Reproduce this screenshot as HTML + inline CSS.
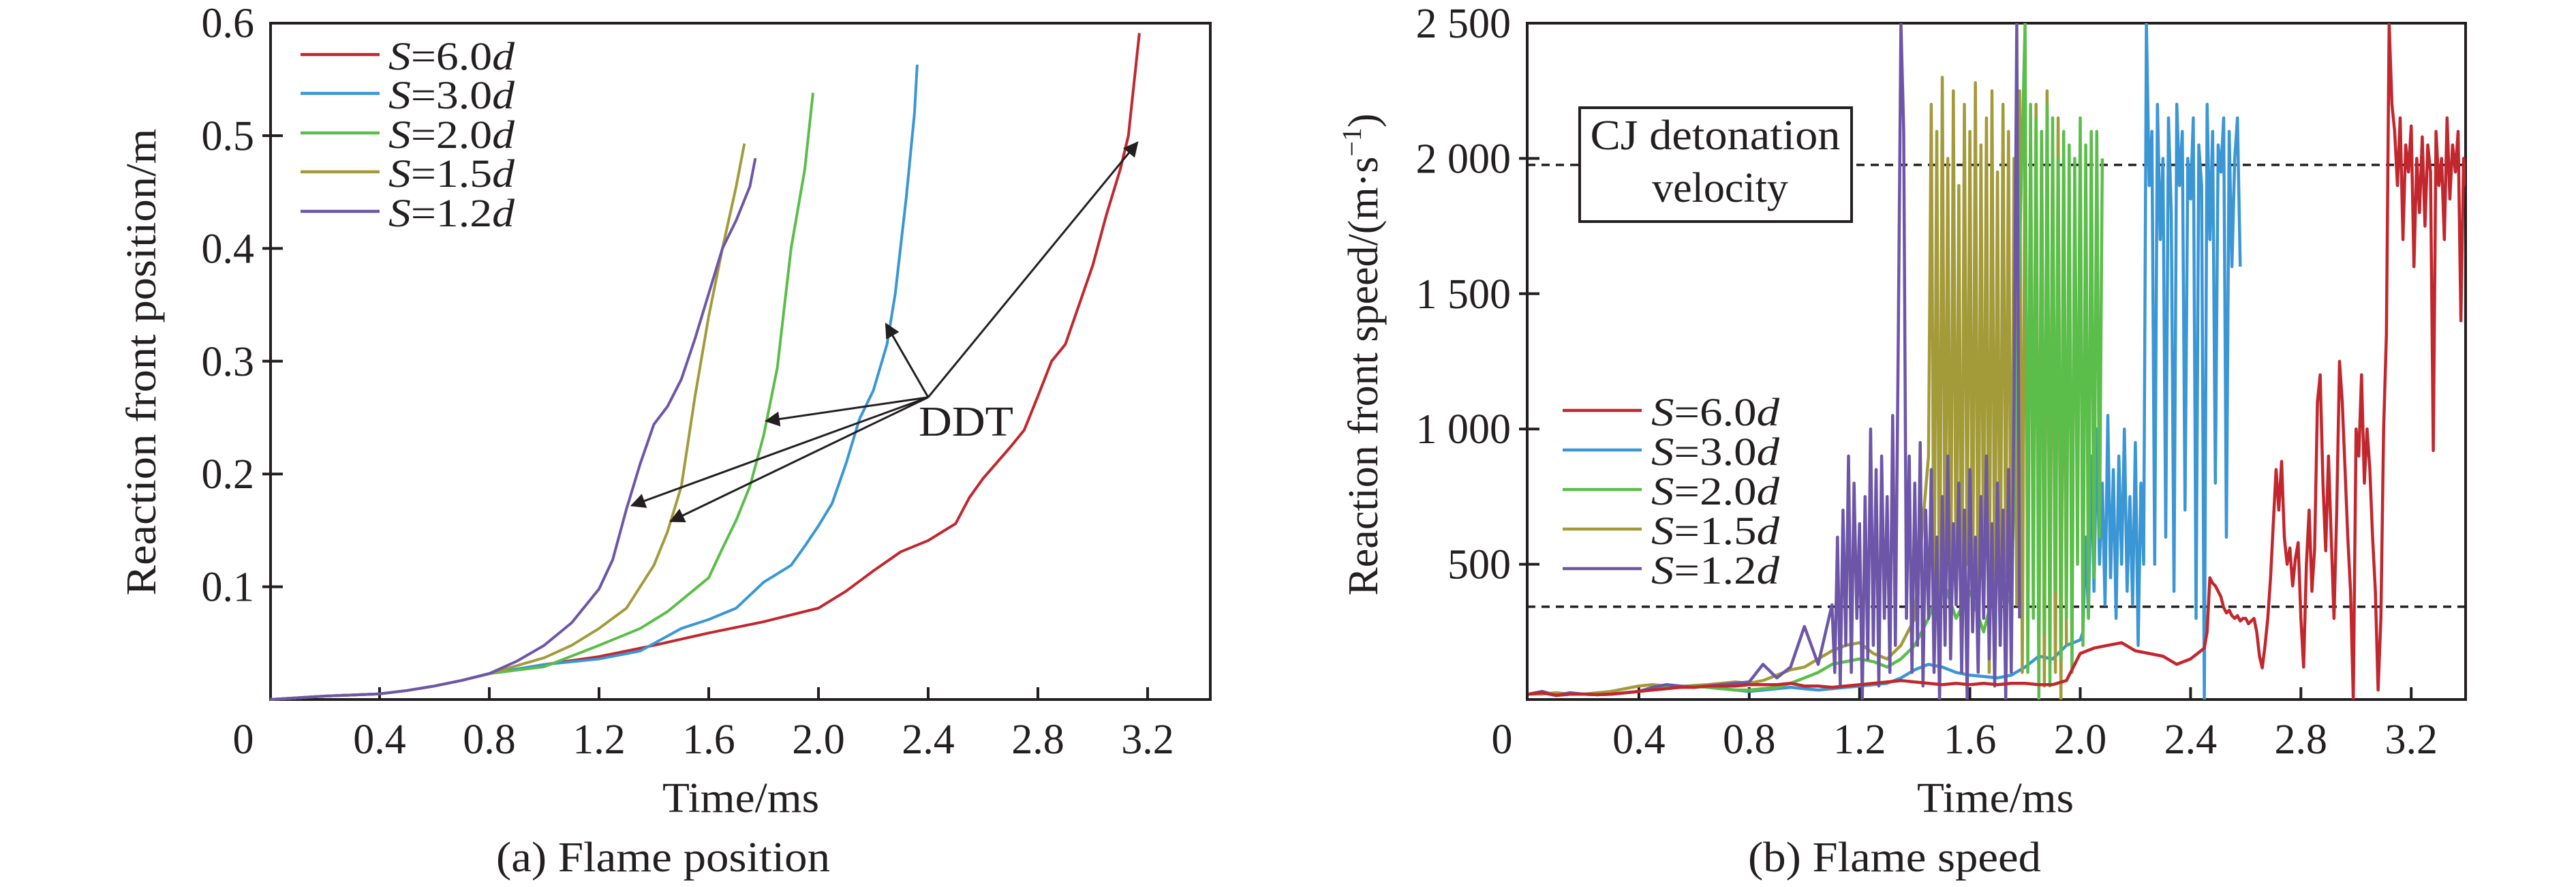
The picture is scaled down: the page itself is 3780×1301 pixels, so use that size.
<!DOCTYPE html>
<html><head><meta charset="utf-8"><style>
html,body{margin:0;padding:0;background:#fff;}
svg{display:block;font-family:"Liberation Serif",serif;}
</style></head><body>
<svg id="fig" width="3780" height="1301" viewBox="0 0 3780 1301" xmlns="http://www.w3.org/2000/svg">
<defs><clipPath id="clipB"><rect x="2241" y="34" width="1377" height="992"/></clipPath>
<marker id="arrh" viewBox="0 0 10 10" refX="9" refY="5" markerWidth="30" markerHeight="22" orient="auto-start-reverse" markerUnits="userSpaceOnUse"><path d="M0,0 L10,5 L0,10 z" fill="#231f20"/></marker>
</defs>
<g id="panelA"></g>
<g id="panelB"></g>
</svg>
<script>
// ---------- Panel (a) data ----------
const seriesNames = ["S=6.0d","S=3.0d","S=2.0d","S=1.5d","S=1.2d"];
const seriesColors = ["#c1272d","#3a96d4","#5bbd4a","#a39a3a","#6d56a8"];
const xTicks = [0,0.4,0.8,1.2,1.6,2.0,2.4,2.8,3.2];
const xTickLabels = ["0","0.4","0.8","1.2","1.6","2.0","2.4","2.8","3.2"];
const yTicksA = [0.1,0.2,0.3,0.4,0.5,0.6];
const yTickLabelsA = ["0.1","0.2","0.3","0.4","0.5","0.6"];
const sharedT = [0,0.2,0.4,0.5,0.6,0.7,0.8];
const sharedP = [0,0.003,0.005,0.008,0.012,0.017,0.023];
const redT = [1.0,1.2,1.4,1.6,1.8,2.0,2.1,2.2,2.3,2.4,2.5,2.55,2.6,2.7,2.75,2.8,2.85,2.9,2.95,3.0,3.05,3.1,3.13,3.17];
const redP = [0.031,0.038,0.048,0.059,0.069,0.081,0.096,0.114,0.131,0.141,0.156,0.179,0.196,0.224,0.239,0.269,0.30,0.315,0.35,0.385,0.43,0.47,0.50,0.591];
const blueT = [1.0,1.2,1.35,1.5,1.6,1.7,1.8,1.9,1.95,2.0,2.05,2.1,2.15,2.2,2.25,2.28,2.32,2.35,2.36];
const blueP = [0.031,0.036,0.043,0.063,0.071,0.081,0.104,0.119,0.136,0.154,0.174,0.209,0.249,0.274,0.315,0.36,0.445,0.52,0.563];
const greenT = [1.0,1.2,1.35,1.45,1.5,1.6,1.65,1.7,1.75,1.8,1.85,1.9,1.95,1.98];
const greenP = [0.029,0.048,0.063,0.078,0.088,0.108,0.134,0.159,0.189,0.234,0.294,0.40,0.47,0.538];
const oliveT = [1.0,1.1,1.2,1.3,1.4,1.45,1.5,1.55,1.6,1.65,1.7,1.73];
const oliveP = [0.037,0.048,0.063,0.081,0.119,0.149,0.189,0.269,0.34,0.40,0.455,0.493];
const purpleT = [0.9,1.0,1.1,1.15,1.2,1.25,1.3,1.35,1.4,1.45,1.5,1.55,1.6,1.65,1.7,1.75,1.77];
const purpleP = [0.034,0.048,0.068,0.083,0.098,0.124,0.169,0.209,0.244,0.26,0.284,0.32,0.36,0.40,0.425,0.455,0.48];
const ddtOrigin = [2.40,0.268];
const ddtTargetsT = [3.163,2.246,1.809,1.319,1.461];
const ddtTargetsP = [0.494,0.333,0.247,0.172,0.158];

// ---------- Panel (b) data ----------
const yTicksB = [500,1000,1500,2000,2500];
const yTickLabelsB = ["500","1 000","1 500","2 000","2 500"];
const cjSpeed = 1976, lowSpeed = 343;
const coarseStep = 0.05, fineStep = 0.01;
const redCoarse = [20,25,15,20,20,18,20,25,30,35,40,45,45,50,50,50,55,55,55,60,50,50,45,50,55,60,65,70,65,60,55,60,55,60,55,60,60,55,55,70,170,190,200,210,180,170,160,130,150,180];
const redFineStart = 2.45;
const redFine = [190,250,450,430,420,400,380,340,320,330,310,300,310,290,300,300,280,290,300,250,160,117,200,300,450,650,
850,700,880,600,500,560,420,520,580,300,120,500,700,400,560,1100,1200,800,550,900,600,300,700,1250,1100,850,600,400,0,1000,900,1200,800,1000,850,600,400,35,300,1000,1350,
2500,2200,2100,1900,2150,1700,2050,1950,2120,1600,2000,1800,2080,1750,2050,1950,920,2100,1900,2000,1700,2150,1850,2050,1950,2100,1400,2000,1900,2150];
const blueCoarse = [20,25,15,20,20,18,20,25,30,40,45,45,50,45,40,35,30,35,40,45,40,35,40,45,50,55,60,80,110,130,120,100,90,85,80,90,120,160,150,200,220];
const blueFineStart = 2.01;
const blueFine = [250,600,300,900,400,1000,500,800,350,1050,450,850,300,900,500,1000,400,750,350,950,200,800,500,2500,
1900,2100,500,2200,1700,2000,600,2150,1800,400,2200,1900,2100,700,2000,1850,2150,300,2050,1900,0,2200,1700,2100,800,2050,1950,2150,600,2100,1600,2000,2150,1600];
const greenCoarse = [20,25,15,20,20,18,20,25,30,40,45,45,50,45,40,35,35,40,45,60,80,100,130,140,150,140,120,150,200,300,450,300,400,250,450,350];
const greenFineStart = 1.80;
const greenFine = [2500,100,2200,300,2150,0,2100,250,2200,50,2150,400,2000,150,2100,300,2050,100,2000,500,2150,200,2050,300,2100,450,2100,600,2000];
const oliveCoarse = [20,20,25,20,20,25,30,40,50,55,50,48,52,55,60,65,60,70,90,110,120,150,180,200,210,170,150,200,300];
const oliveFineStart = 1.45;
const oliveFine = [900,2200,300,2100,150,2300,400,2000,200,2250,350,1900,100,2200,500,2100,250,2280,150,2050,400,2150,100,2250,300,1950,200,2200,450,2100,150,2000,350,2250,100,2150,300,2050,500,2200,150,2100,50,2250,300,2000,100,2150,0,1800,200];
const purpleCoarse = [20,30,15,25,20,18,20,25,30,45,55,50,45,50,55,60,65,130,80,120,270,130,350];
const purpleFineStart = 1.11;
const purpleFine = [100,600,50,700,200,900,100,800,300,650,0,750,150,1000,200,850,50,900,300,750,100,1050,200,1300,
2500,2100,300,900,100,800,200,950,50,700,300,850,100,600,0,750,200,900,150,650,350,800,100,700,0,850,250,600,100,750,300,900,150,650,50,800,200,700,0,850,100,1100,2500,300];

const NS="http://www.w3.org/2000/svg";
function mk(tag, parent, attrs){const e=document.createElementNS(NS,tag);for(const k in attrs)e.setAttribute(k,attrs[k]);parent.appendChild(e);return e;}
const INK="#231f20";

const A={x0:396, sx:402.5, y0:1026, sy:1654, left:397, right:1776, top:34, bottom:1026};
const B={x0:2243, sx:404.75, y0:1026, sy:992/2500, left:2241, right:3618, top:34, bottom:1026};
const ax=t=>A.x0+t*A.sx, ay=p=>A.y0-p*A.sy;
const bx=t=>B.x0+t*B.sx, by=v=>B.y0-v*B.sy;

function legendText(g, x, y, label, w){
  const t=mk('text',g,{x:x,y:y,'font-size':58,fill:INK,textLength:w,lengthAdjust:'spacingAndGlyphs'});
  const m=label.match(/^S=(.*)d$/);
  const s1=mk('tspan',t,{'font-style':'italic'});s1.textContent='S';
  const s2=mk('tspan',t,{});s2.textContent='='+m[1];
  const s3=mk('tspan',t,{'font-style':'italic'});s3.textContent='d';
  return t;
}

function drawFrame(g,P,xf,yf,yTicks,yLabels){
  const fr=mk('rect',g,{x:P.left,y:P.top,width:P.right-P.left,height:P.bottom-P.top,fill:'none',stroke:INK,'stroke-width':4});
  
  
  xTicks.forEach((v,i)=>{
    const x=xf(v);
    if(v>0){const tk=mk('line',g,{x1:x,y1:P.bottom,x2:x,y2:P.bottom-18,stroke:INK,'stroke-width':4});
      
      }
    const lx = v===0 ? x-39 : x;
    const lb=mk('text',g,{x:lx,y:1105,'font-size':62,'text-anchor':'middle',fill:INK});
    lb.textContent=xTickLabels[i];
    
    
  });
  yTicks.forEach((v,i)=>{
    const y=yf(v);
    if(y<P.bottom-2 && y>P.top+2){const tk=mk('line',g,{x1:P.left-12,y1:y,x2:P.left+18,y2:y,stroke:INK,'stroke-width':4});
      
      }
    const lb=mk('text',g,{x:P.left-24,y:y+21,'font-size':62,'text-anchor':'end',fill:INK});
    lb.textContent=yLabels[i];
    
    
  });
}

function pathFrom(ts,vs,xf,yf){return ts.map((t,i)=>(i?'L':'M')+xf(t).toFixed(1)+','+yf(vs[i]).toFixed(1)).join(' ');}

// ---------- Panel (a) ----------
const gA=document.getElementById('panelA');
drawFrame(gA,A,ax,ay,yTicksA,yTickLabelsA);
const aT=[redT,blueT,greenT,oliveT,purpleT], aP=[redP,blueP,greenP,oliveP,purpleP];
const aNames=['curve-s6','curve-s3','curve-s2','curve-s15','curve-s12'];
aT.forEach((ts,k)=>{
  const p=mk('path',gA,{d:pathFrom(sharedT.concat(ts),sharedP.concat(aP[k]),ax,ay),fill:'none',stroke:seriesColors[k],'stroke-width':4,'stroke-linejoin':'round'});
  
  
});
ddtTargetsT.forEach((t,i)=>{
  const l=mk('line',gA,{x1:ax(ddtOrigin[0]),y1:ay(ddtOrigin[1]),x2:ax(t),y2:ay(ddtTargetsP[i]),stroke:INK,'stroke-width':3,'marker-end':'url(#arrh)'});
  
  
});
const ddt=mk('text',gA,{x:1348,y:639,'font-size':62,fill:INK,textLength:139,lengthAdjust:'spacingAndGlyphs'});ddt.textContent='DDT';


const legYA=[80,137,195,252,310];
seriesNames.forEach((n,k)=>{
  const g=mk('g',gA,{});
  
  
  mk('line',g,{x1:441,y1:legYA[k],x2:557,y2:legYA[k],stroke:seriesColors[k],'stroke-width':4.5});
  legendText(g,570,legYA[k]+22,n,185);
});
let t;
t=mk('text',gA,{x:1087,y:1191,'font-size':62,'text-anchor':'middle',fill:INK,textLength:230,lengthAdjust:'spacingAndGlyphs'});t.textContent='Time/ms';


t=mk('text',gA,{x:973,y:1278,'font-size':62,'text-anchor':'middle',fill:INK,textLength:490,lengthAdjust:'spacingAndGlyphs'});t.textContent='(a) Flame position';


t=mk('text',gA,{x:0,y:0,'font-size':62,'text-anchor':'middle',fill:INK,textLength:685,lengthAdjust:'spacingAndGlyphs',transform:'translate(228,531) rotate(-90)'});t.textContent='Reaction front position/m';



// ---------- Panel (b) ----------
const gB=document.getElementById('panelB');
drawFrame(gB,B,bx,by,yTicksB,yTickLabelsB);
[cjSpeed,lowSpeed].forEach(v=>{
  const l=mk('line',gB,{x1:B.left,y1:by(v),x2:B.right,y2:by(v),stroke:INK,'stroke-width':3.5,'stroke-dasharray':'12,9'});
  
  
});
const gC=mk('g',gB,{'clip-path':'url(#clipB)'});
function series(coarse,fineStart,fine){
  const ts=[],vs=[];
  coarse.forEach((v,i)=>{const tt=i*coarseStep;if(tt<fineStart-1e-9){ts.push(tt);vs.push(v);}});
  fine.forEach((v,i)=>{ts.push(fineStart+i*fineStep);vs.push(v);});
  return [ts,vs];
}
const bData=[
  ['speed-s3',1,series(blueCoarse,blueFineStart,blueFine)],
  ['speed-s15',3,series(oliveCoarse,oliveFineStart,oliveFine)],
  ['speed-s2',2,series(greenCoarse,greenFineStart,greenFine)],
  ['speed-s12',4,series(purpleCoarse,purpleFineStart,purpleFine)],
  ['speed-s6',0,series(redCoarse,redFineStart,redFine)]
];
bData.forEach(([name,k,[ts,vs]])=>{
  const p=mk('path',gC,{d:pathFrom(ts,vs,bx,by),fill:'none',stroke:seriesColors[k],'stroke-width':4.5,'stroke-linejoin':'round'});
  
  
});
const box=mk('g',gB,{});


mk('rect',box,{x:2318,y:158,width:399,height:167,fill:'#fff',stroke:INK,'stroke-width':4});
t=mk('text',box,{x:2517,y:219,'font-size':62,'text-anchor':'middle',fill:INK,textLength:367,lengthAdjust:'spacingAndGlyphs'});t.textContent='CJ detonation';
t=mk('text',box,{x:2524,y:296,'font-size':62,'text-anchor':'middle',fill:INK});t.textContent='velocity';
const legYB=[602,660,718,776,834];
seriesNames.forEach((n,k)=>{
  const g=mk('g',gB,{});
  
  
  mk('line',g,{x1:2293,y1:legYB[k],x2:2409,y2:legYB[k],stroke:seriesColors[k],'stroke-width':4.5});
  legendText(g,2423,legYB[k]+22,n,188);
});
t=mk('text',gB,{x:2928,y:1191,'font-size':62,'text-anchor':'middle',fill:INK,textLength:230,lengthAdjust:'spacingAndGlyphs'});t.textContent='Time/ms';


t=mk('text',gB,{x:2780,y:1278,'font-size':62,'text-anchor':'middle',fill:INK,textLength:430,lengthAdjust:'spacingAndGlyphs'});t.textContent='(b) Flame speed';


t=mk('text',gB,{x:0,y:0,'font-size':62,'text-anchor':'middle',fill:INK,transform:'translate(2021,520) rotate(-90)'});


let s=mk('tspan',t,{});s.textContent='Reaction front speed/(m·s';
s=mk('tspan',t,{dy:-24,'font-size':40});s.textContent='−1';
s=mk('tspan',t,{dy:24});s.textContent=')';
</script>
</body></html>
